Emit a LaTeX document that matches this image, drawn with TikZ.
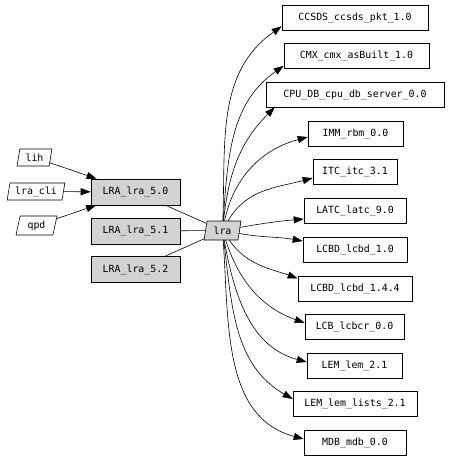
\documentclass[tikz,border=0pt]{standalone}
\usepackage{fontspec}
\setmonofont{DejaVu Sans Mono}
\usetikzlibrary{arrows.meta,shapes.geometric}
\definecolor{gvgray}{RGB}{211,211,211}
\begin{document}
\begin{tikzpicture}[x=1pt,y=-1pt,
  every node/.style={font=\ttfamily\fontsize{9.9}{12}\selectfont, inner sep=0pt},
  box/.style={draw, rectangle, minimum height=25pt},
  gbox/.style={box, fill=gvgray, minimum width=89pt, minimum height=26pt},
  para/.style={draw, trapezium, trapezium left angle=77, trapezium right angle=103, trapezium stretches=true},
  arr/.style={-{Triangle[length=10pt,width=7pt]}},
  line width=0.6pt]
\useasboundingbox[fill=white] (0,0) rectangle (450,460);
% left nodes
\node[para, minimum width=35pt, minimum height=17pt] (lih) at (34.5,157.5) {lih};
\node[para, minimum width=58pt, minimum height=17pt] (lracli) at (36,191.5) {lra\_cli};
\node[para, minimum width=41pt, minimum height=19pt] (qpd) at (36.5,225.5) {qpd};
\node[gbox] (l50) at (135.5,192) {LRA\_lra\_5.0};
\node[gbox] (l51) at (135.5,231) {LRA\_lra\_5.1};
\node[gbox] (l52) at (135.5,269.5) {LRA\_lra\_5.2};
\node[para, fill=gvgray, minimum width=37pt, minimum height=19pt] (lra) at (222.5,230.5) {lra};
% right nodes
\node[box, minimum width=146pt] (ccsds) at (355,17.5) {CCSDS\_ccsds\_pkt\_1.0};
\node[box, minimum width=145pt] (cmx) at (356.5,56) {CMX\_cmx\_asBuilt\_1.0};
\node[box, minimum width=178pt] (cpu) at (355,94.5) {CPU\_DB\_cpu\_db\_server\_0.0};
\node[box, minimum width=95pt] (imm) at (355.5,133.5) {IMM\_rbm\_0.0};
\node[box, minimum width=84pt] (itc) at (355,172) {ITC\_itc\_3.1};
\node[box, minimum width=102pt] (latc) at (355,210.5) {LATC\_latc\_9.0};
\node[box, minimum width=104pt] (lcbda) at (355,249.5) {LCBD\_lcbd\_1.0};
\node[box, minimum width=114pt] (lcbdb) at (355,288.5) {LCBD\_lcbd\_1.4.4};
\node[box, minimum width=99pt] (lcb) at (354.5,326.5) {LCB\_lcbcr\_0.0};
\node[box, minimum width=95pt] (lem) at (354.5,365.5) {LEM\_lem\_2.1};
\node[box, minimum width=124pt] (leml) at (355,404) {LEM\_lem\_lists\_2.1};
\node[box, minimum width=102pt] (mdb) at (355,442.5) {MDB\_mdb\_0.0};
% left edges
\draw[arr] (lih) -- (l50);
\draw[arr] (lracli) -- (l50);
\draw[arr] (qpd) -- (l50);
\draw (l50) -- (lra);
\draw (l51) -- (lra);
\draw (l52) -- (lra);
% right edges
\draw[arr] (lra) to[out=88,in=215] ([yshift=4pt]ccsds.south west);
\draw[arr] (lra) to[out=86,in=215] ([yshift=3pt]cmx.south west);
\draw[arr] (lra) to[out=84,in=225] ([xshift=9pt]cpu.south west);
\draw[arr] (lra) to[out=78,in=195] ([yshift=-3.5pt]imm.west);
\draw[arr] (lra) to[out=60,in=195] ([yshift=-6pt]itc.west);
\draw[arr] (lra) to[out=10,in=185] ([yshift=-8.5pt]latc.west);
\draw[arr] (lra) to[out=-10,in=170] ([yshift=8.5pt]lcbda.west);
\draw[arr] (lra) to[out=-55,in=160] ([yshift=10pt]lcbdb.west);
\draw[arr] (lra) to[out=-72,in=160] ([yshift=3.5pt]lcb.west);
\draw[arr] (lra) to[out=-80,in=165] ([yshift=3.5pt]lem.west);
\draw[arr] (lra) to[out=-83,in=150] ([yshift=5pt]leml.west);
\draw[arr] (lra) to[out=-86,in=165] ([yshift=3.5pt]mdb.west);
\end{tikzpicture}
\end{document}
